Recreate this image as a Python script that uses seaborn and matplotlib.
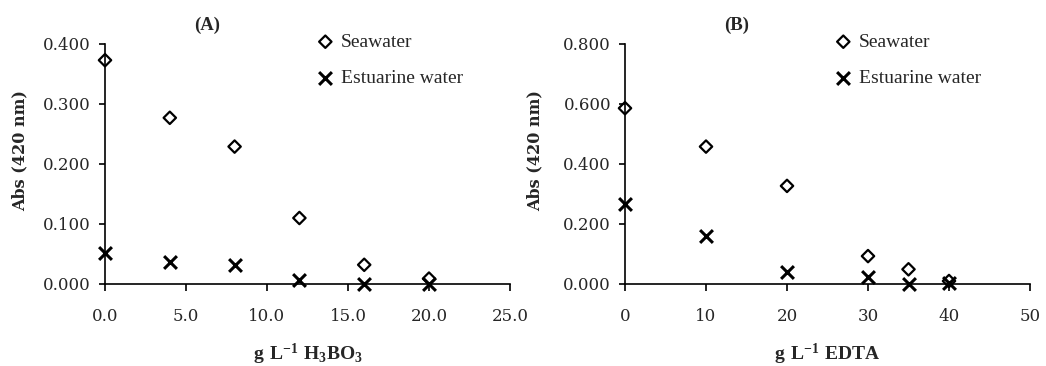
import pandas as pd
import matplotlib.pyplot as plt
import seaborn as sns
from matplotlib.ticker import FormatStrFormatter, MultipleLocator

# (A) boric acid
boric_x = [0, 4, 8, 12, 16, 20]
boric_sea = [0.373, 0.277, 0.229, 0.110, 0.032, 0.009]
boric_est = [0.051, 0.036, 0.032, 0.006, 0.000, 0.000]

# (B) EDTA
edta_x = [0, 10, 20, 30, 35, 40]
edta_sea = [0.586, 0.458, 0.327, 0.093, 0.049, 0.010]
edta_est = [0.267, 0.160, 0.041, 0.024, 0.000, 0.002]

sns.set_style("white")
plt.rcParams['font.family'] = ['Liberation Serif', 'DejaVu Serif']
plt.rcParams['mathtext.fontset'] = 'custom'
plt.rcParams['mathtext.rm'] = 'Liberation Serif'
plt.rcParams['mathtext.bf'] = 'Liberation Serif:bold'

fig = plt.figure(figsize=(10.46, 3.66), dpi=100)
axA = fig.add_axes([105 / 1046, 82 / 366, 405 / 1046, 240 / 366])
axB = fig.add_axes([625 / 1046, 82 / 366, 405 / 1046, 240 / 366])


def panel(ax, x, sea, est, xmax, xstep, xfmt, ymax, ystep, xlabel, title, tx, lx, ylx):
    df_sea = pd.DataFrame({"x": x, "y": sea})
    df_est = pd.DataFrame({"x": x, "y": est})
    sns.scatterplot(data=df_sea, x="x", y="y", ax=ax, marker="D", s=40,
                    facecolor="none", edgecolor="black", linewidth=1.6,
                    label="Seawater", clip_on=False, zorder=3)
    sns.scatterplot(data=df_est, x="x", y="y", ax=ax, marker="x", s=85,
                    color="black", linewidth=2.2,
                    label="Estuarine water", clip_on=False, zorder=3)
    ax.set_xlim(0, xmax)
    ax.set_ylim(0, ymax)
    ax.xaxis.set_major_locator(MultipleLocator(xstep))
    ax.yaxis.set_major_locator(MultipleLocator(ystep))
    ax.xaxis.set_major_formatter(FormatStrFormatter(xfmt))
    ax.yaxis.set_major_formatter(FormatStrFormatter("%.3f"))
    for s in ["top", "right"]:
        ax.spines[s].set_visible(False)
    for s in ["left", "bottom"]:
        ax.spines[s].set_color("black")
        ax.spines[s].set_linewidth(1.2)
    ax.tick_params(axis="x", direction="out", length=5, width=1.2, pad=12,
                   labelsize=12, color="black", bottom=True)
    ax.tick_params(axis="y", direction="out", length=4, width=1.2, pad=6,
                   labelsize=12, color="black", left=True)
    for lab in ax.get_xticklabels() + ax.get_yticklabels():
        lab.set_family("DejaVu Serif")
        lab.set_fontweight("light")
    ax.set_xlabel(xlabel, fontsize=14, fontweight="bold")
    ax.set_ylabel("Abs (420 nm)", fontsize=11.5, fontweight="bold",
                  family="DejaVu Serif")
    ax.xaxis.set_label_coords(0.5, -0.24)
    ax.yaxis.set_label_coords(ylx, 0.558)
    fig.text(tx, 1 - 25 / 366, title, ha="center", va="center",
             fontsize=13.5, fontweight="bold")
    ax.legend(loc="upper left", bbox_to_anchor=(lx, 1.045), frameon=False,
              fontsize=14, borderpad=0, borderaxespad=0, handlelength=1.0,
              handletextpad=0.3, labelspacing=0.95)
    ax.grid(False)


panel(axA, boric_x, boric_sea, boric_est, 25, 5, "%.1f", 0.4, 0.1,
      r"$\mathbf{g\ L^{-1}\ H_3BO_3}$", "(A)", 207 / 1046, 0.52, -0.19)
panel(axB, edta_x, edta_sea, edta_est, 50, 10, "%d", 0.8, 0.2,
      r"$\mathbf{g\ L^{-1}\ EDTA}$", "(B)", 737 / 1046, 0.515, -0.202)

fig.savefig("out.png", dpi=100, facecolor="white")
